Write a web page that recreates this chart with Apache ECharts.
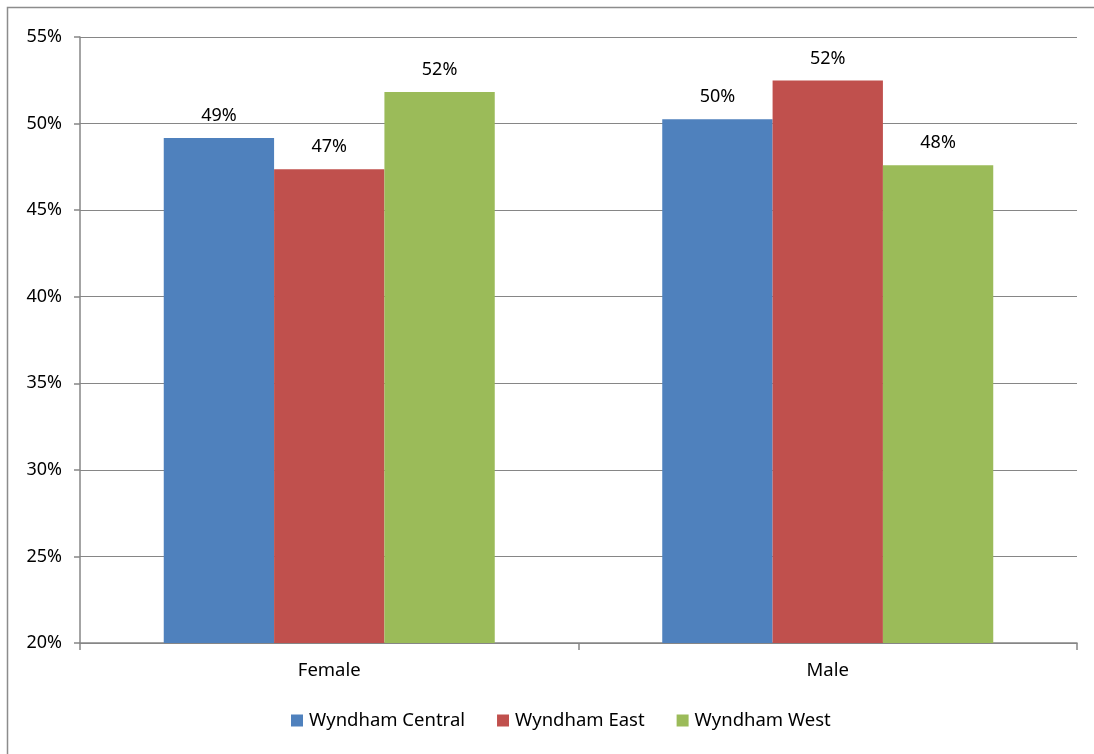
<!DOCTYPE html>
<html>
<head>
<meta charset="utf-8">
<script src="https://cdn.jsdelivr.net/npm/echarts@6/dist/echarts.min.js"></script>
<style>html,body{margin:0;padding:0;background:#fff}#c{width:1094px;height:754px}</style>
</head>
<body>
<div id="c"></div>
<script>
const categories = ['Female', 'Male'];
const seriesNames = ['Wyndham Central', 'Wyndham East', 'Wyndham West'];
const central = [49.17, 50.25];
const east = [47.36, 52.49];
const west = [51.83, 47.6];
const colors = ['#4F81BD', '#C0504D', '#9BBB59'];
const yTicks = [20, 25, 30, 35, 40, 45, 50, 55];

const values = [central, east, west];
const font = '"Noto Sans", "Open Sans", sans-serif';
const chart = echarts.init(document.getElementById('c'));
chart.setOption({
  animation: false,
  backgroundColor: '#fff',
  graphic: [{
    type: 'rect', shape: {x: 7.5, y: 7.5, width: 1200, height: 900},
    style: {fill: 'none', stroke: '#8c8c8c', lineWidth: 1.5}, silent: true
  }],
  grid: {left: 80, right: 17, top: 37, bottom: 111, containLabel: false},
  legend: {
    top: 706, left: 286, itemWidth: 12, itemHeight: 12, itemGap: 32,
    icon: 'rect',
    textStyle: {fontFamily: font, fontSize: 18.5, color: '#000', padding: [0, 0, 0, 1]},
    data: seriesNames
  },
  xAxis: {
    type: 'category', data: categories,
    axisLine: {lineStyle: {color: '#868686', width: 1.5}},
    axisTick: {show: true, length: 7, lineStyle: {color: '#868686', width: 1.5}},
    axisLabel: {fontFamily: font, fontSize: 18.5, color: '#000', margin: 18}
  },
  yAxis: {
    type: 'value', min: yTicks[0], max: yTicks[yTicks.length - 1], interval: 5,
    axisLine: {show: true, lineStyle: {color: '#868686', width: 1.5}},
    axisTick: {show: true, length: 6, lineStyle: {color: '#868686', width: 1.5}},
    splitLine: {lineStyle: {color: '#868686', width: 1.2}},
    axisLabel: {fontFamily: font, fontSize: 18, color: '#000', margin: 18, formatter: v => v + '%'}
  },
  series: seriesNames.map((n, i) => ({
    name: n, type: 'bar', data: values[i],
    itemStyle: {color: colors[i]},
    barGap: '0%', barCategoryGap: '33.6%',
    label: {show: true, position: 'top', distance: 13, fontFamily: font, fontSize: 18, color: '#000',
      formatter: p => Math.round(p.value) + '%'}
  }))
});
</script>
</body>
</html>
